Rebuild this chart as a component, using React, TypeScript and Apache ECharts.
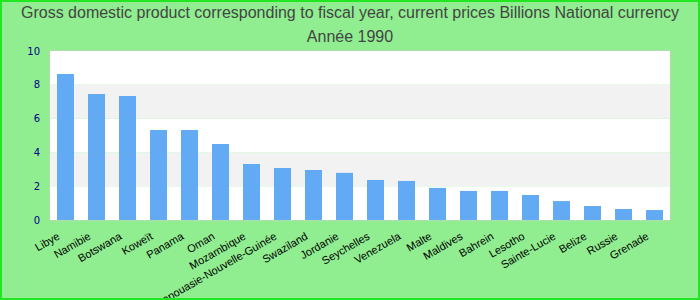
import React, { useEffect, useRef } from "react";
import * as echarts from "echarts";

const titleLine1 = "Gross domestic product corresponding to fiscal year, current prices Billions National currency";
const titleLine2 = "Année 1990";

const categories = [
  "Libye", "Namibie", "Botswana", "Koweït", "Panama", "Oman", "Mozambique",
  "Papouasie-Nouvelle-Guinée", "Swaziland", "Jordanie", "Seychelles", "Venezuela",
  "Malte", "Maldives", "Bahrein", "Lesotho", "Sainte-Lucie", "Belize", "Russie", "Grenade",
];

const values = [
  8.64, 7.46, 7.34, 5.33, 5.33, 4.5, 3.32, 3.08, 2.96, 2.79, 2.37, 2.31,
  1.9, 1.72, 1.72, 1.48, 1.12, 0.83, 0.65, 0.59,
];

const yMin = 0;
const yMax = 10;
const yInterval = 2;

export default function App() {
  const ref = useRef<HTMLDivElement>(null);

  useEffect(() => {
    document.body.style.margin = "0";
    if (!ref.current) return;
    const chart = echarts.init(ref.current, null, { renderer: "svg" });
    chart.setOption({
      animation: false,
      backgroundColor: "#90ee90",
      title: {
        text: titleLine1 + "\n" + titleLine2,
        left: "center",
        top: 0,
        padding: 0,
        textStyle: {
          fontFamily: "Liberation Sans, Arial, sans-serif",
          fontSize: 16,
          fontWeight: "normal",
          color: "#444444",
          lineHeight: 24,
        },
      },
      grid: {
        left: 50,
        right: 30,
        top: 51,
        bottom: 80,
        containLabel: false,
        outerBoundsMode: "none",
        show: true,
        borderColor: "#cccccc",
        borderWidth: 1,
        backgroundColor: "transparent",
      },
      xAxis: {
        type: "category",
        data: categories,
        axisLine: { show: false },
        axisTick: { show: false },
        axisLabel: {
          interval: 0,
          rotate: 30,
          margin: 11,
          padding: [0, 8, 0, 0],
          fontFamily: "Liberation Sans, Arial, sans-serif",
          fontSize: 11,
          color: "#000000",
        },
      },
      yAxis: {
        type: "value",
        min: yMin,
        max: yMax,
        interval: yInterval,
        axisLine: { show: false },
        axisTick: { show: false },
        splitLine: { show: false },
        splitArea: {
          show: true,
          areaStyle: { color: ["#ffffff", "#f2f2f2"] },
        },
        axisLabel: {
          margin: 10,
          fontFamily: "DejaVu Sans, sans-serif",
          fontSize: 10,
          color: "#00008b",
        },
      },
      series: [
        {
          type: "bar",
          data: values,
          barWidth: 17,
          itemStyle: { color: "#63aaf5" },
        },
      ],
    });
    return () => chart.dispose();
  }, []);

  return (
    <div style={{ position: "absolute", left: 0, top: 0, width: 700, height: 300 }}>
      <div ref={ref} style={{ width: 700, height: 300 }} />
      <div
        style={{
          position: "absolute",
          left: 0,
          top: 0,
          width: 700,
          height: 300,
          boxSizing: "border-box",
          border: "2px solid #22e622",
          pointerEvents: "none",
        }}
      />
    </div>
  );
}
